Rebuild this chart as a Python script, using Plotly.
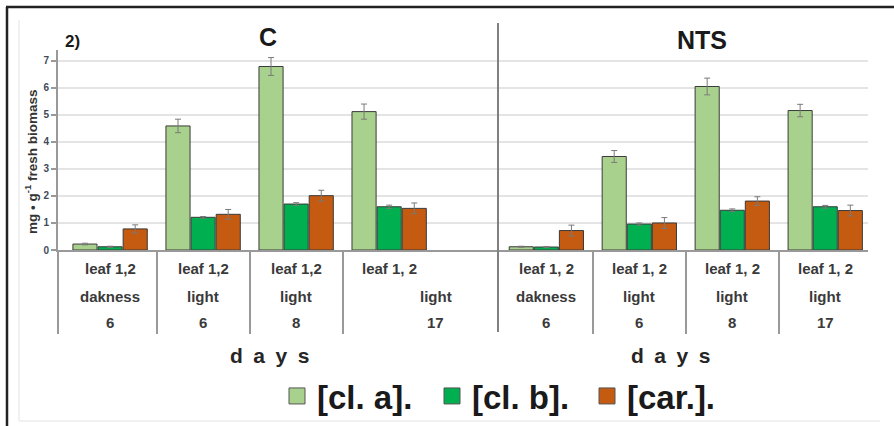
import plotly.graph_objects as go

# ---------------- data ----------------
series_names = ["[cl. a].", "[cl. b].", "[car.]."]
series_colors = ["#a9d18e", "#00b050", "#c55a11"]

c_positions = [0, 1, 2, 3]
nts_positions = [0, 1, 2, 3]

c_cla = [0.22, 4.59, 6.79, 5.12]
c_clb = [0.12, 1.21, 1.70, 1.60]
c_car = [0.78, 1.32, 2.01, 1.54]
c_cla_err = [0.03, 0.25, 0.33, 0.28]
c_clb_err = [0.02, 0.03, 0.05, 0.06]
c_car_err = [0.15, 0.18, 0.20, 0.20]

nts_cla = [0.12, 3.46, 6.05, 5.16]
nts_clb = [0.11, 0.96, 1.47, 1.60]
nts_car = [0.72, 1.00, 1.81, 1.46]
nts_cla_err = [0.02, 0.22, 0.31, 0.23]
nts_clb_err = [0.02, 0.04, 0.05, 0.05]
nts_car_err = [0.20, 0.20, 0.16, 0.20]

c_row1 = ["leaf 1,2", "leaf 1,2", "leaf 1,2", "leaf 1, 2"]
c_row2 = ["dakness", "light", "light", "light"]
c_row3 = ["6", "6", "8", "17"]
nts_row1 = ["leaf 1, 2", "leaf 1, 2", "leaf 1, 2", "leaf 1, 2"]
nts_row2 = ["dakness", "light", "light", "light"]
nts_row3 = ["6", "6", "8", "17"]

y_ticks = [0, 1, 2, 3, 4, 5, 6, 7]
y_title = "mg • g<sup>-1</sup> fresh biomass"

# ---------------- figure ----------------
W, H = 894, 426
ML, MR, MT, MB = 58, 26, 50, 176
plot_w = W - ML - MR
split = 440 / plot_w

FONT = "Liberation Sans, Arial, sans-serif"
GRID = "#e4e4e4"
AXC = "#999999"
BAR_LINE = dict(color="#3a3a3a", width=1)

fig = go.Figure()

c_vals = [c_cla, c_clb, c_car]
c_errs = [c_cla_err, c_clb_err, c_car_err]
n_vals = [nts_cla, nts_clb, nts_car]
n_errs = [nts_cla_err, nts_clb_err, nts_car_err]

for i in range(3):
    fig.add_trace(go.Bar(
        x=c_positions, y=c_vals[i], xaxis="x", yaxis="y",
        marker=dict(color=series_colors[i], line=BAR_LINE),
        error_y=dict(type="data", array=c_errs[i], color="#7a7a7a", thickness=1, width=3),
        offsetgroup=str(i), showlegend=False, name=series_names[i]))
for i in range(3):
    fig.add_trace(go.Bar(
        x=nts_positions, y=n_vals[i], xaxis="x2", yaxis="y",
        marker=dict(color=series_colors[i], line=BAR_LINE),
        error_y=dict(type="data", array=n_errs[i], color="#7a7a7a", thickness=1, width=3),
        offsetgroup=str(i), showlegend=False, name=series_names[i]))
# legend entries
for i in range(3):
    fig.add_trace(go.Scatter(
        x=[None], y=[None], mode="markers", name="<b>%s</b>" % series_names[i],
        marker=dict(symbol="square", size=16, color=series_colors[i],
                    line=dict(color="#555555", width=1)),
        xaxis="x", yaxis="y", showlegend=True))

c_range = [-0.56, 4.17]
n_range = [-0.52, 3.46]

fig.update_layout(
    width=W, height=H,
    margin=dict(l=ML, r=MR, t=MT, b=MB, autoexpand=False),
    paper_bgcolor="white", plot_bgcolor="white",
    barmode="group", bargap=0.19, bargroupgap=0.04,
    font=dict(family=FONT, color="#333333"),
    xaxis=dict(domain=[0, split], range=c_range, showgrid=False, zeroline=False,
               showline=True, linecolor=AXC, linewidth=2, automargin=False,
               tickmode="array", tickvals=[c_range[0] + 0.002, 0.5, 1.5, 2.5],
               showticklabels=False, ticks="outside", ticklen=82,
               tickwidth=2, tickcolor=AXC),
    xaxis2=dict(domain=[split, 1], range=n_range, showgrid=False, zeroline=False,
                showline=True, linecolor=AXC, linewidth=2, anchor="y", automargin=False,
                tickmode="array", tickvals=[0.5, 1.5, 2.5],
                showticklabels=False, ticks="outside", ticklen=82,
                tickwidth=2, tickcolor=AXC),
    yaxis=dict(range=[0, 7.4], tickvals=y_ticks, showgrid=True, gridcolor=GRID,
               gridwidth=2, zeroline=False, showline=True, linecolor=AXC,
               linewidth=2, ticks="outside", ticklen=5, tickcolor=AXC, tickwidth=2,
               automargin=False,
               tickfont=dict(size=10, color="#3d4b5c", family=FONT, weight="bold")),
    legend=dict(orientation="h", x=(277 - ML) / plot_w, xanchor="left",
                y=(250 - 396) / 200, yanchor="middle",
                font=dict(size=33, color="#1a1a1a", family=FONT),
                itemwidth=30, entrywidth=110, entrywidthmode="pixels",
                bgcolor="rgba(0,0,0,0)"),
)

ann = []
def yp(py):
    return (H - MB - py) / (H - MT - MB)

def xp(px):
    return (px - ML) / plot_w

LBL = dict(size=15, color="#3a3a3a")
def lab(x, y, xref, text, font=LBL, xanchor="center"):
    return dict(x=x, y=y, xref=xref, yref="paper", text=text, showarrow=False,
                font=font, xanchor=xanchor, yanchor="middle")

# category labels
c_row23_shift = [0, 0, 0, 0.5]
for k in range(4):
    ann.append(lab(c_positions[k], yp(268), "x", "<b>%s</b>" % c_row1[k]))
    ann.append(lab(c_positions[k] + c_row23_shift[k], yp(296), "x", "<b>%s</b>" % c_row2[k]))
    ann.append(lab(c_positions[k] + c_row23_shift[k], yp(322), "x", "<b>%s</b>" % c_row3[k]))
    ann.append(lab(nts_positions[k], yp(268), "x2", "<b>%s</b>" % nts_row1[k]))
    ann.append(lab(nts_positions[k], yp(296), "x2", "<b>%s</b>" % nts_row2[k]))
    ann.append(lab(nts_positions[k], yp(322), "x2", "<b>%s</b>" % nts_row3[k]))

# y axis title
yt = lab(xp(31), yp(162), "paper", "<b>%s</b>" % y_title,
         font=dict(size=13.5, color="#333333"))
yt["textangle"] = -90
ann.append(yt)

# axis titles "d a y s"
for px in (269, 670):
    ann.append(lab(xp(px), yp(355), "paper", "<b>d\u2002a\u2002y\u2002s</b>",
                   font=dict(size=21, color="#262626")))
# panel titles
ann.append(lab(xp(63), yp(42), "paper", "<b>2)</b>",
               font=dict(size=17, color="#1a1a1a"), xanchor="left"))
ann.append(lab(xp(268), yp(37), "paper", "<b>C</b>", font=dict(size=25, color="#1a1a1a")))
ann.append(lab(xp(702), yp(40), "paper", "<b>NTS</b>", font=dict(size=25, color="#1a1a1a")))
fig.update_layout(annotations=ann)

shapes = [
    # separator between panels
    dict(type="line", xref="paper", yref="paper", x0=split, x1=split,
         y0=yp(332), y1=yp(23), line=dict(color="#808080", width=2)),
    # frame (top and left)
    dict(type="line", xref="paper", yref="paper", x0=xp(6), x1=xp(900),
         y0=yp(7), y1=yp(7), line=dict(color="#222222", width=2.5)),
    dict(type="line", xref="paper", yref="paper", x0=xp(7), x1=xp(7),
         y0=yp(7), y1=yp(430), line=dict(color="#222222", width=2.5)),
    # faint inner frame
    dict(type="line", xref="paper", yref="paper", x0=xp(19), x1=xp(19),
         y0=yp(20), y1=yp(421), line=dict(color="#ececec", width=1.5)),
    dict(type="line", xref="paper", yref="paper", x0=xp(19), x1=xp(880),
         y0=yp(421), y1=yp(421), line=dict(color="#ececec", width=1.5)),
]
fig.update_layout(shapes=shapes)

fig.write_html("out.html", config={"displayModeBar": False},
               post_script="document.body.style.margin='0';document.body.style.overflow='hidden';")
